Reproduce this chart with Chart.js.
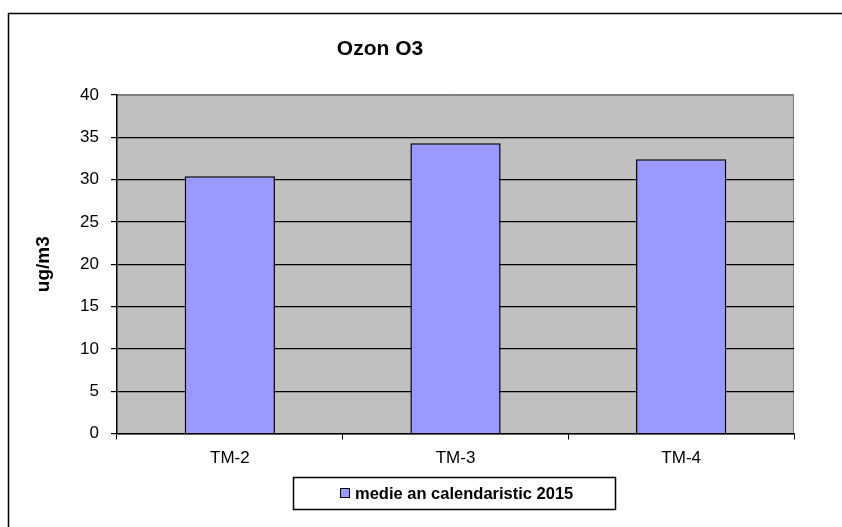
<!DOCTYPE html>
<html>
<head>
<meta charset="utf-8">
<script src="https://cdn.jsdelivr.net/npm/chart.js@4"></script>
<style>
  html, body { margin: 0; padding: 0; background: #fff; }
  #wrap { width: 842px; height: 527px; position: relative; }
</style>
</head>
<body>
<div id="wrap"><canvas id="grafik" width="842" height="527"></canvas></div>
<script>
const categories = ["TM-2", "TM-3", "TM-4"];
const seriesLabel = "medie an calendaristic 2015";
const ozonValues = [30.4, 34.3, 32.4];
const yTicks = [0, 5, 10, 15, 20, 25, 30, 35, 40];
const chartTitle = "Ozon O3";
const yTitle = "ug/m3";

const FONT = "Arial, 'Liberation Sans', sans-serif";

// gray plot background, outer frame, title and boxed legend
const excelStyle = {
  id: "excelStyle",
  beforeDraw(chart) {
    const { ctx, chartArea: a } = chart;
    ctx.save();
    ctx.fillStyle = "#fff";
    ctx.fillRect(0, 0, chart.width, chart.height);
    ctx.fillStyle = "#c0c0c0";
    ctx.fillRect(a.left, a.top, a.right - a.left, a.bottom - a.top);
    // gray top/right edge of plot
    ctx.strokeStyle = "#808080";
    ctx.lineWidth = 1;
    ctx.beginPath();
    ctx.moveTo(a.left, a.top + 0.5);
    ctx.lineTo(a.right - 0.5, a.top + 0.5);
    ctx.lineTo(a.right - 0.5, a.bottom);
    ctx.stroke();
    ctx.restore();
  },
  afterDraw(chart) {
    const { ctx } = chart;
    ctx.save();
    // outer frame (runs off the image on right and bottom)
    ctx.strokeStyle = "#000";
    ctx.lineWidth = 1.5;
    ctx.strokeRect(8.5, 13.5, 860, 560);
    // title
    ctx.fillStyle = "#000";
    ctx.font = "bold 21px " + FONT;
    ctx.textAlign = "center";
    ctx.textBaseline = "middle";
    ctx.fillText(chartTitle, 380, 49);
    // legend
    const bx = 293, by = 477, bw = 322, bh = 32;
    ctx.lineWidth = 1.5;
    ctx.strokeStyle = "#000";
    ctx.strokeRect(bx + 0.5, by + 0.5, bw, bh);
    ctx.font = "bold 16.5px " + FONT;
    const sx = 340, sy = 493;
    ctx.fillStyle = "#9999ff";
    ctx.fillRect(sx, sy - 5, 10, 10);
    ctx.lineWidth = 1;
    ctx.strokeRect(sx + 0.5, sy - 4.5, 9, 9);
    ctx.fillStyle = "#000";
    ctx.textAlign = "left";
    ctx.fillText(seriesLabel, 355, sy + 1);
    ctx.restore();
  }
};

new Chart(document.getElementById("grafik"), {
  type: "bar",
  data: {
    labels: categories,
    datasets: [
      {
        label: seriesLabel,
        data: ozonValues,
        backgroundColor: "#9999ff",
        borderColor: "#000",
        borderWidth: 1.5,
        barPercentage: 0.4,
        categoryPercentage: 1
      }
    ]
  },
  options: {
    responsive: false,
    animation: false,
    layout: { padding: { left: 0, right: 48, top: 95, bottom: 60 } },
    plugins: {
      legend: { display: false },
      title: { display: false },
      tooltip: { enabled: false }
    },
    scales: {
      x: {
        offset: true,
        grid: {
          offset: true,
          drawOnChartArea: false,
          drawTicks: true,
          tickLength: 6,
          color: "#000"
        },
        border: { color: "#000", width: 1.5 },
        ticks: {
          color: "#000",
          padding: 9,
          font: { family: FONT, size: 17 }
        },
        afterFit(scale) { scale.height = 527 - 60 - 433.5; }
      },
      y: {
        min: 0,
        max: 40,
        afterBuildTicks(scale) {
          scale.ticks = yTicks.map((v) => ({ value: v }));
        },
        grid: {
          color: (c) => (c.tick && c.tick.value === 40 ? "#808080" : "#000"),
          tickColor: "#000",
          tickLength: 6,
          lineWidth: 1.2
        },
        border: { color: "#000", width: 1.5 },
        ticks: {
          color: "#000",
          padding: 12,
          font: { family: FONT, size: 17 }
        },
        title: {
          display: true,
          text: yTitle,
          color: "#000",
          font: { family: FONT, size: 19, weight: "bold" },
          padding: { top: 32, bottom: 0 }
        },
        afterFit(scale) { scale.width = 117; }
      }
    }
  },
  plugins: [excelStyle]
});
</script>
</body>
</html>
